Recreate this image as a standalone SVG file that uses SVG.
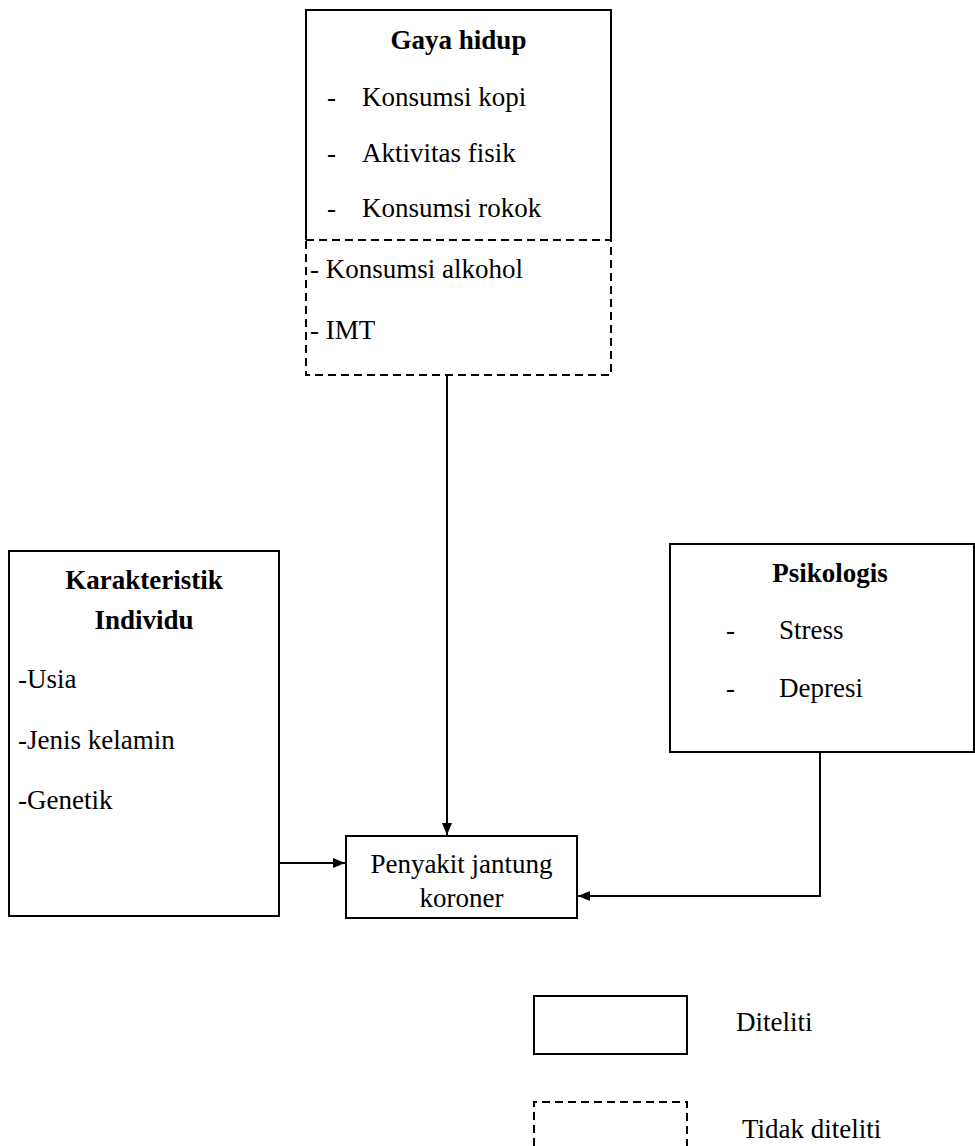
<svg xmlns="http://www.w3.org/2000/svg" width="975" height="1146" viewBox="0 0 975 1146" font-family="'Liberation Serif', 'Times New Roman', Times, 'DejaVu Serif', serif">
<style>
text{font-family:'Liberation Serif','Times New Roman',Times,'DejaVu Serif',serif;font-size:27px;fill:#000}
.b{font-weight:bold}
.c{text-anchor:middle}
.box{fill:#fff;stroke:#000;stroke-width:2}
.dash{fill:none;stroke:#000;stroke-width:2;stroke-dasharray:8 5}
.ln{fill:none;stroke:#000;stroke-width:2}
</style>
<defs>
<marker id="ah" viewBox="0 0 12 10" refX="12" refY="5" markerWidth="12" markerHeight="10" markerUnits="userSpaceOnUse" orient="auto">
<path d="M0,0 L12,5 L0,10 Z" fill="#000"/>
</marker>
</defs>
<rect width="975" height="1146" fill="#fff"/>
<g id="connectors">
<line class="ln" x1="447" y1="375" x2="447" y2="835" marker-end="url(#ah)"/>
<line class="ln" x1="279" y1="863" x2="345" y2="863" marker-end="url(#ah)"/>
<polyline class="ln" points="820,752 820,896 578,896" marker-end="url(#ah)"/>
</g>
<g id="gaya-hidup">
<path class="ln" d="M306,240 V10 H611 V240"/>
<path class="dash" d="M306,240 H611 V375 H306 Z"/>
<text class="b c" x="458.5" y="49">Gaya hidup</text>
<text x="327" y="106">-</text><text x="362" y="106">Konsumsi kopi</text>
<text x="327" y="162">-</text><text x="362" y="162">Aktivitas fisik</text>
<text x="327" y="217">-</text><text x="362" y="217">Konsumsi rokok</text>
<text x="310" y="278">- Konsumsi alkohol</text>
<text x="310" y="339">- IMT</text>
</g>
<g id="karakteristik">
<rect class="box" x="9" y="551" width="270" height="365"/>
<text class="b c" x="144" y="589">Karakteristik</text>
<text class="b c" x="144" y="629">Individu</text>
<text x="18" y="688">-Usia</text>
<text x="18" y="749">-Jenis kelamin</text>
<text x="18" y="809">-Genetik</text>
</g>
<g id="psikologis">
<rect class="box" x="670" y="544" width="304" height="208"/>
<text class="b c" x="830" y="582">Psikologis</text>
<text x="726" y="639">-</text><text x="779" y="639">Stress</text>
<text x="726" y="697">-</text><text x="779" y="697">Depresi</text>
</g>
<g id="pjk">
<rect class="box" x="346" y="836" width="231" height="82"/>
<text class="c" x="461.5" y="873">Penyakit jantung</text>
<text class="c" x="461.5" y="907">koroner</text>
</g>
<g id="legend-diteliti">
<rect class="box" x="534" y="996" width="153" height="58"/>
<text x="736" y="1031">Diteliti</text>
</g>
<g id="legend-tidak">
<path class="dash" d="M534,1146 V1102 H687 V1146"/>
<text x="742" y="1138">Tidak diteliti</text>
</g>
</svg>
